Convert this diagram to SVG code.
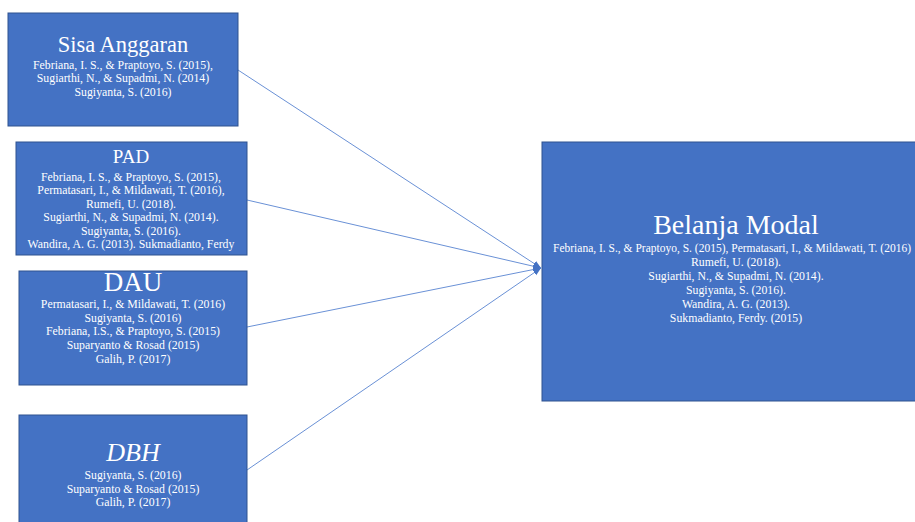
<svg xmlns="http://www.w3.org/2000/svg" width="915" height="522" viewBox="0 0 915 522">
<style>
.box{fill:#4472C4;stroke:#2F528F;stroke-width:1}
.t{font-family:"Liberation Serif","Times New Roman",serif;fill:#fff;text-anchor:middle}
.c{font-size:11.8px}
.s{text-anchor:start}
.conn{stroke:#6A91D6;stroke-width:1;fill:none;marker-end:url(#ah)}
</style>
<defs>
<marker id="ah" viewBox="0 0 10 10" refX="10" refY="5" markerWidth="8" markerHeight="8" markerUnits="userSpaceOnUse" orient="auto">
<path d="M0,1 L10,5 L0,9 Z" fill="#4472C4"/>
</marker>
</defs>
<rect width="915" height="522" fill="#fff"/>
<g id="connectors">
<line class="conn" x1="238" y1="70" x2="541" y2="268"/>
<line class="conn" x1="247" y1="200" x2="541" y2="268"/>
<line class="conn" x1="247" y1="327" x2="541" y2="268"/>
<line class="conn" x1="247" y1="470" x2="541" y2="268"/>
</g>
<g id="sisa">
<rect class="box" x="8" y="13" width="230" height="113"/>
<text class="t" x="123" y="52" font-size="22.5">Sisa Anggaran</text>
<text class="t c" x="123" y="69">Febriana, I. S., &amp; Praptoyo, S. (2015),</text>
<text class="t c" x="123" y="82">Sugiarthi, N., &amp; Supadmi, N. (2014)</text>
<text class="t c" x="123" y="96">Sugiyanta, S. (2016)</text>
</g>
<g id="pad">
<rect class="box" x="16" y="142" width="231" height="113"/>
<text class="t" x="131" y="163" font-size="19">PAD</text>
<text class="t c" x="131" y="181">Febriana, I. S., &amp; Praptoyo, S. (2015),</text>
<text class="t c" x="131" y="194">Permatasari, I., &amp; Mildawati, T. (2016),</text>
<text class="t c" x="131" y="208">Rumefi, U. (2018).</text>
<text class="t c" x="131" y="221">Sugiarthi, N., &amp; Supadmi, N. (2014).</text>
<text class="t c" x="131" y="235">Sugiyanta, S. (2016).</text>
<text class="t c" x="131" y="248">Wandira, A. G. (2013). Sukmadianto, Ferdy</text>
</g>
<g id="dau">
<rect class="box" x="19" y="271" width="228" height="114"/>
<text class="t" x="133" y="291" font-size="27">DAU</text>
<text class="t c" x="133" y="308">Permatasari, I., &amp; Mildawati, T. (2016)</text>
<text class="t c" x="133" y="322">Sugiyanta, S. (2016)</text>
<text class="t c" x="133" y="335">Febriana, I.S., &amp; Praptoyo, S. (2015)</text>
<text class="t c" x="133" y="349">Suparyanto &amp; Rosad (2015)</text>
<text class="t c" x="133" y="363">Galih, P. (2017)</text>
</g>
<g id="dbh">
<rect class="box" x="19" y="415" width="228" height="120"/>
<text class="t" x="133" y="461" font-size="26" font-style="italic">DBH</text>
<text class="t c" x="133" y="479">Sugiyanta, S. (2016)</text>
<text class="t c" x="133" y="493">Suparyanto &amp; Rosad (2015)</text>
<text class="t c" x="133" y="506">Galih, P. (2017)</text>
</g>
<g id="belanja">
<rect class="box" x="542" y="142" width="390" height="259"/>
<text class="t" x="736" y="234" font-size="28">Belanja Modal</text>
<text class="t c s" x="553" y="252" textLength="358" lengthAdjust="spacingAndGlyphs">Febriana, I. S., &amp; Praptoyo, S. (2015), Permatasari, I., &amp; Mildawati, T. (2016)</text>
<text class="t c" x="736" y="266">Rumefi, U. (2018).</text>
<text class="t c" x="736" y="280">Sugiarthi, N., &amp; Supadmi, N. (2014).</text>
<text class="t c" x="736" y="294">Sugiyanta, S. (2016).</text>
<text class="t c" x="736" y="308">Wandira, A. G. (2013).</text>
<text class="t c" x="736" y="322">Sukmadianto, Ferdy. (2015)</text>
</g>
</svg>
